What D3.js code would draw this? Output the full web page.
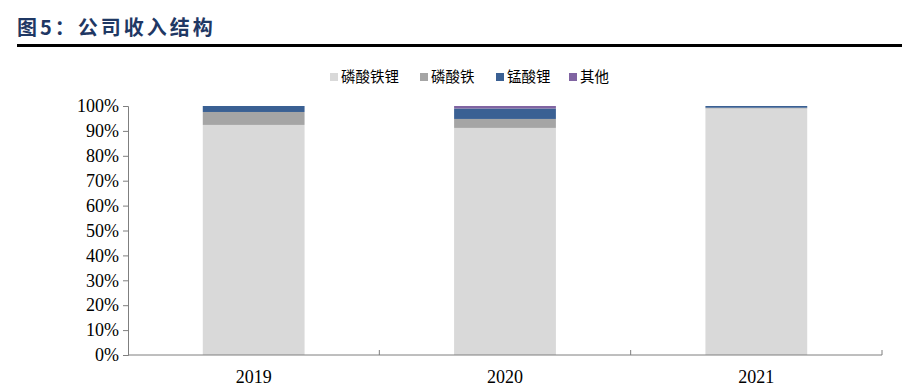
<!DOCTYPE html>
<html>
<head>
<meta charset="utf-8">
<script src="https://cdn.jsdelivr.net/npm/d3@7"></script>
<style>
  body { margin: 0; background: #fff; }
</style>
</head>
<body>
<div id="chart"></div>
<script>
var years = ['2019', '2020', '2021'];
var seriesNames = ['磷酸铁锂', '磷酸铁', '锰酸锂', '其他'];
var lfp = [92.4, 91.2, 99.0];
var fePo4 = [5.2, 3.6, 0.3];
var lmo = [2.4, 4.2, 0.7];
var other = [0.0, 1.0, 0.0];
var yTicks = [0, 10, 20, 30, 40, 50, 60, 70, 80, 90, 100];
var colors = ['#d9d9d9', '#a5a5a5', '#3a6093', '#8064a2'];

var width = 902, height = 390;
var margin = {top: 106, right: 20, bottom: 35, left: 128};
var serif = '"Liberation Serif", "Times New Roman", serif';

var svg = d3.select('#chart').append('svg')
    .attr('width', width)
    .attr('height', height);

// title
svg.append('text')
    .attr('x', 17)
    .attr('y', 35)
    .text('图5：公司收入结构')
    .style('font-family', '"Noto Sans CJK SC"')
    .style('font-size', '20px')
    .style('font-weight', 'bold')
    .style('letter-spacing', '3px')
    .attr('fill', '#1f3864');

svg.append('rect')
    .attr('x', 17)
    .attr('y', 44)
    .attr('width', 885)
    .attr('height', 3)
    .style('fill', '#000');

var rows = years.map(function(y, i) {
    return {year: y, '磷酸铁锂': lfp[i], '磷酸铁': fePo4[i], '锰酸锂': lmo[i], '其他': other[i]};
});
var stacked = d3.stack().keys(seriesNames)(rows);

var x = d3.scaleBand()
    .domain(years)
    .range([margin.left, 882])
    .paddingInner(0.595)
    .paddingOuter(0.2975);

var y = d3.scaleLinear()
    .domain([0, 100])
    .range([355, margin.top]);

// bars
svg.append('g').selectAll('g')
    .data(stacked)
    .join('g')
    .style('fill', function(d, i) { return colors[i]; })
    .selectAll('rect')
    .data(function(d) { return d; })
    .join('rect')
    .attr('x', function(d) { return x(d.data.year); })
    .attr('width', x.bandwidth())
    .attr('y', function(d) { return y(d[1]); })
    .attr('height', function(d) { return y(d[0]) - y(d[1]); });

// y axis
var yAxis = svg.append('g')
    .attr('transform', 'translate(' + margin.left + ',0)')
    .call(d3.axisLeft(y).tickValues(yTicks).tickSize(5).tickSizeOuter(5)
        .tickFormat(function(d) { return d + '%'; }));
yAxis.attr('font-family', null);
yAxis.selectAll('path, line').attr('stroke', '#7f7f7f');
yAxis.selectAll('text')
    .style('font-family', serif)
    .style('font-size', '18px')
    .attr('fill', '#000')
    .attr('dx', '-1');

// x axis
var step = x.step();
var xAxisG = svg.append('g')
    .attr('transform', 'translate(0,355)');
xAxisG.append('line')
    .attr('x1', margin.left).attr('x2', 882)
    .attr('stroke', '#7f7f7f');
xAxisG.selectAll('.tk')
    .data(years)
    .join('line')
    .attr('class', 'tk')
    .attr('x1', function(d, i) { return margin.left + step * (i + 1); })
    .attr('x2', function(d, i) { return margin.left + step * (i + 1); })
    .attr('y1', 0).attr('y2', -5)
    .attr('stroke', '#7f7f7f');
xAxisG.selectAll('.lb')
    .data(years)
    .join('text')
    .attr('class', 'lb')
    .attr('x', function(d) { return x(d) + x.bandwidth() / 2; })
    .attr('y', 28)
    .text(function(d) { return d; })
    .style('font-family', serif)
    .style('font-size', '18px')
    .style('text-anchor', 'middle');

// legend
var legendX = [330, 420, 496, 569];
var legend = svg.append('g').selectAll('g')
    .data(seriesNames)
    .join('g')
    .attr('transform', function(d, i) { return 'translate(' + legendX[i] + ',77)'; });
legend.append('rect')
    .attr('x', 0).attr('y', -4)
    .attr('width', 8).attr('height', 8)
    .style('fill', function(d, i) { return colors[i]; });
legend.append('text')
    .attr('x', 11)
    .attr('y', 5)
    .text(function(d) { return d; })
    .style('font-family', '"Noto Sans CJK SC"')
    .style('font-size', '14.5px')
    .attr('fill', '#000');
</script>
</body>
</html>
